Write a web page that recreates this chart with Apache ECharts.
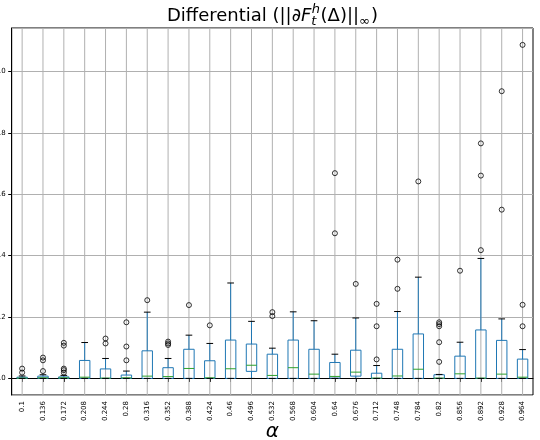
<!DOCTYPE html>
<html>
<head>
<meta charset="utf-8">
<script src="https://cdn.jsdelivr.net/npm/echarts@6/dist/echarts.min.js"></script>
<style>html,body{margin:0;padding:0;background:#fff}#chart{width:540px;height:440px}</style>
</head>
<body>
<div id="chart"></div>
<script>
const categories = ['0.1','0.136','0.172','0.208','0.244','0.28','0.316','0.352','0.388','0.424','0.46','0.496','0.532','0.568','0.604','0.64','0.676','0.712','0.748','0.784','0.82','0.856','0.892','0.928','0.964'];
const whiskerLow = [0,0,0,0,0,0,0,0,0,0,0,0,0,0,0,0,0,0,0,0,0,0,0,0,0];
const q1 =        [0,0.0005,0,0,0,0,0,0,0,0,0,0.023,0,0,0,0.001,0.0075,0,0,0,0,0,0,0,0];
const median =    [0.001,0.002,0.002,0.004,0.001,0.002,0.0075,0.006,0.0325,0.002,0.0315,0.043,0.0098,0.035,0.014,0.0065,0.0205,0.001,0.008,0.030,0.001,0.015,0.001,0.014,0.004];
const q3 =        [0.004,0.0075,0.005,0.0586,0.031,0.011,0.090,0.035,0.095,0.0576,0.125,0.112,0.079,0.125,0.095,0.052,0.092,0.017,0.095,0.145,0.012,0.0726,0.158,0.124,0.063];
const whiskerHigh=[0.008,0.012,0.010,0.117,0.065,0.024,0.216,0.065,0.141,0.114,0.311,0.186,0.0986,0.217,0.188,0.079,0.197,0.042,0.218,0.330,0.013,0.118,0.391,0.194,0.094];
const outliers = [
  [0.032,0.019],
  [0.068,0.059,0.024],
  [0.116,0.107,0.032,0.027,0.019],
  [],
  [0.130,0.114],
  [0.183,0.104,0.059],
  [0.255],
  [0.120,0.114,0.109],
  [0.239],
  [0.173],
  [],
  [],
  [0.216,0.203],
  [],
  [],
  [0.669,0.473],
  [0.308],
  [0.243,0.170,0.062],
  [0.387,0.292],
  [0.642],
  [0.183,0.177,0.170,0.118,0.054],
  [0.351],
  [0.766,0.661,0.418],
  [0.936,0.550],
  [1.087,0.240,0.170]
];
const yMin = -0.054, yMax = 1.142;

const boxData = categories.map((c,i)=>[i, whiskerLow[i], q1[i], median[i], q3[i], whiskerHigh[i]]);
const gridData = categories.map((c,i)=>[i, 0]);
const flierData = [];
outliers.forEach((arr,i)=>arr.forEach(v=>flierData.push([i, v])));

function renderBox(params, api){
  const i = api.value(0);
  const pLow = api.coord([i, api.value(1)]);
  const pQ1 = api.coord([i, api.value(2)]);
  const pMed = api.coord([i, api.value(3)]);
  const pQ3 = api.coord([i, api.value(4)]);
  const pHigh = api.coord([i, api.value(5)]);
  const band = api.size([1,0])[0];
  const bw = band*0.5, cw = band*0.32;
  const cx = pLow[0];
  const blue = '#1f77b4';
  return {type:'group', children:[
    {type:'line', shape:{x1:cx,y1:pQ3[1],x2:cx,y2:pHigh[1]}, style:{stroke:blue, lineWidth:1}},
    {type:'line', shape:{x1:cx,y1:pQ1[1],x2:cx,y2:pLow[1]}, style:{stroke:blue, lineWidth:1}},
    {type:'rect', shape:{x:cx-bw/2, y:pQ3[1], width:bw, height:pQ1[1]-pQ3[1]}, style:{fill:'none', stroke:blue, lineWidth:1}},
    {type:'line', shape:{x1:cx-bw/2,y1:pMed[1],x2:cx+bw/2,y2:pMed[1]}, style:{stroke:'#2ca02c', lineWidth:1}},
    {type:'line', shape:{x1:cx-cw/2,y1:pHigh[1],x2:cx+cw/2,y2:pHigh[1]}, style:{stroke:'#000', lineWidth:1}},
    {type:'line', shape:{x1:cx-cw/2,y1:pLow[1],x2:cx+cw/2,y2:pLow[1]}, style:{stroke:'#000', lineWidth:1}}
  ]};
}
function renderVGrid(params, api){
  const p = api.coord([api.value(0), 0]);
  const cs = params.coordSys;
  return {type:'line', shape:{x1:p[0], y1:cs.y, x2:p[0], y2:cs.y+cs.height}, style:{stroke:'#b0b0b0', lineWidth:1}};
}

// Title pieces (math-like layout)
const ctx = document.createElement('canvas').getContext('2d');
function tw(text, font){ ctx.font = font; return ctx.measureText(text).width; }
const FS = 18, SS = 13, FAM = '"DejaVu Sans"';
const pieces = [
  {t:'Differential (', st:'normal', s:FS, dy:0},
  {t:'||∂', st:'normal', s:FS, dy:0},
  {t:'F', st:'italic', s:FS, dy:0},
  {t:'h', st:'italic', s:SS, dy:-7, stackNext:true},
  {t:'t', st:'italic', s:SS, dy:5},
  {t:'(Δ)||', st:'normal', s:FS, dy:0, pre:1},
  {t:'∞', st:'normal', s:SS, dy:5},
  {t:')', st:'normal', s:FS, dy:0, pre:1}
];
let xCur = 0; const laid = [];
for (let k=0;k<pieces.length;k++){
  const p = pieces[k];
  const font = p.st+' '+p.s+'px '+FAM;
  if (p.pre) xCur += p.pre;
  if (p.stackNext){
    const q = pieces[k+1];
    const fq = q.st+' '+q.s+'px '+FAM;
    const w1 = tw(p.t,font), w2 = tw(q.t,fq);
    laid.push({p, x:xCur+0.5, font});
    laid.push({p:q, x:xCur, font:fq});
    xCur += Math.max(w1,w2);
    k++;
  } else {
    laid.push({p, x:xCur, font});
    xCur += tw(p.t,font);
  }
}
const titleCenter = 272.4, titleMid = 16.5;
const x0 = titleCenter - xCur/2;
const titleGraphics = laid.map(o=>({
  type:'text', x: x0+o.x, y: titleMid + o.p.dy,
  style:{text:o.p.t, fontSize:o.p.s, fontFamily:'DejaVu Sans', fontStyle:o.p.st, fill:'#000',
         align:'left', verticalAlign:'middle', textAlign:'left', textVerticalAlign:'middle'}
}));

const chart = echarts.init(document.getElementById('chart'), null, {renderer:'canvas'});
chart.setOption({
  animation:false,
  backgroundColor:'#fff',
  grid:{left:11.7, right:7, top:28, bottom:45, show:true, borderColor:'#000', borderWidth:1,
        backgroundColor:'transparent', outerBoundsMode:'none', containLabel:false},
  graphic: titleGraphics,
  xAxis:{
    type:'category', data:categories, boundaryGap:true,
    axisLine:{show:true, lineStyle:{color:'#000', width:1}},
    axisTick:{show:true, alignWithLabel:true, length:3.5, lineStyle:{color:'#000', width:1}},
    axisLabel:{rotate:90, interval:0, fontSize:7, fontFamily:'DejaVu Sans', color:'#000', margin:6},
    splitLine:{show:false},
    name:'α', nameLocation:'middle', nameGap:27, nameMoveOverlap:false,
    nameTextStyle:{fontSize:20, fontFamily:'DejaVu Sans', fontStyle:'italic', color:'#000'}
  },
  yAxis:{
    type:'value', min:yMin, max:yMax, splitNumber:5,
    axisLine:{show:true, lineStyle:{color:'#000', width:1}},
    axisTick:{show:true, length:3.5, lineStyle:{color:'#000', width:1}},
    axisLabel:{fontSize:7, fontFamily:'DejaVu Sans', color:'#000', margin:6, showMinLabel:false, showMaxLabel:false,
      formatter:v=>v.toFixed(1)},
    splitLine:{show:true, lineStyle:{color:'#b0b0b0', width:1}}
  },
  series:[
    {type:'custom', name:'vgrid', data:gridData, renderItem:renderVGrid, encode:{x:0, y:1}, z:1, silent:true},
    {type:'custom', name:'box', data:boxData, renderItem:renderBox, encode:{x:0, y:[1,2,3,4,5]}, z:3},
    {type:'scatter', name:'fliers', data:flierData, symbol:'circle', symbolSize:5,
     itemStyle:{color:'rgba(0,0,0,0)', borderColor:'#000', borderWidth:1}, z:4}
  ]
});
</script>
</body>
</html>
